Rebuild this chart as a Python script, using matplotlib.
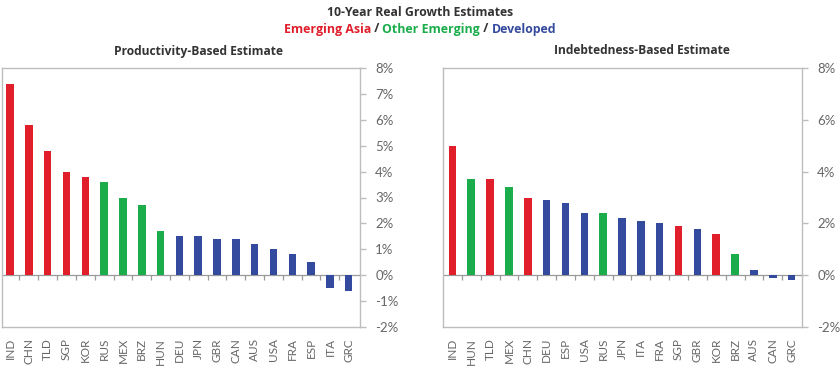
import matplotlib
matplotlib.use("Agg")
import matplotlib.pyplot as plt
import numpy as np

plt.rcParams['font.family'] = ['Lato', 'DejaVu Sans']
BOLD_FAMILY = ['Open Sans', 'DejaVu Sans']

RED, GREEN, BLUE = '#E01F2B', '#1BAD4B', '#344A9E'
group_colors = {'asia': RED, 'other': GREEN, 'dev': BLUE}

groups = {
    'IND': 'asia', 'CHN': 'asia', 'TLD': 'asia', 'SGP': 'asia', 'KOR': 'asia',
    'RUS': 'other', 'MEX': 'other', 'BRZ': 'other', 'HUN': 'other',
    'DEU': 'dev', 'JPN': 'dev', 'GBR': 'dev', 'CAN': 'dev', 'AUS': 'dev',
    'USA': 'dev', 'FRA': 'dev', 'ESP': 'dev', 'ITA': 'dev', 'GRC': 'dev',
}

prod_countries = ['IND', 'CHN', 'TLD', 'SGP', 'KOR', 'RUS', 'MEX', 'BRZ', 'HUN',
                  'DEU', 'JPN', 'GBR', 'CAN', 'AUS', 'USA', 'FRA', 'ESP', 'ITA', 'GRC']
prod_values = [7.4, 5.8, 4.8, 4.0, 3.8, 3.6, 3.0, 2.7, 1.7,
               1.5, 1.5, 1.4, 1.4, 1.2, 1.0, 0.8, 0.5, -0.5, -0.6]

debt_countries = ['IND', 'HUN', 'TLD', 'MEX', 'CHN', 'DEU', 'ESP', 'USA', 'RUS',
                  'JPN', 'ITA', 'FRA', 'SGP', 'GBR', 'KOR', 'BRZ', 'AUS', 'CAN', 'GRC']
debt_values = [5.0, 3.7, 3.7, 3.4, 3.0, 2.9, 2.8, 2.4, 2.4,
               2.2, 2.1, 2.0, 1.9, 1.8, 1.6, 0.8, 0.2, -0.1, -0.2]

prod_yticks = [-2, -1, 0, 1, 2, 3, 4, 5, 6, 7, 8]
debt_yticks = [-2, 0, 2, 4, 6, 8]

W, H = 840, 370
fig = plt.figure(figsize=(W / 100, H / 100), dpi=100)
renderer = fig.canvas.get_renderer()

FRAME = '#BDBDBD'
TXT = '#666666'
DARK = '#333333'

def panel(rect, countries, values, yticks, xlim):
    ax = fig.add_axes(rect)
    x = np.arange(len(countries))
    cols = [group_colors[groups[c]] for c in countries]
    ax.bar(x, values, width=0.4, color=cols, zorder=3)
    ax.set_xlim(*xlim)
    ax.set_ylim(-2, 8)
    ax.axhline(0, color='#9a9a9a', lw=0.9, zorder=2)
    ax.vlines(x[:-1] + 0.5, -0.2, 0, color='#9a9a9a', lw=0.9, zorder=2)
    for s in ax.spines.values():
        s.set_color(FRAME)
        s.set_linewidth(1.0)
    ax.yaxis.tick_right()
    ax.set_yticks(yticks)
    ax.set_yticklabels([f'{v}%' for v in yticks], fontsize=9.5, color=TXT)
    ax.tick_params(axis='y', direction='out', length=4, width=1, color=FRAME, pad=7)
    ax.set_xticks(x)
    ax.set_xticklabels(countries, rotation=90, fontsize=8.5, color=TXT)
    ax.tick_params(axis='x', length=0, pad=8)
    return ax

def rect(l, t, r, b):
    return [l / W, 1 - b / H, (r - l) / W, (b - t) / H]

ax1 = panel(rect(2, 68, 360, 327), prod_countries, prod_values, prod_yticks, (-0.43, 18.6))
ax2 = panel(rect(443, 68, 802, 327), debt_countries, debt_values, debt_yticks, (-0.5, 18.55))

def width_of(s, size):
    t = fig.text(0, 0, s + '|', fontsize=size, fontweight='bold', family=BOLD_FAMILY)
    b = fig.text(0, 0, '|', fontsize=size, fontweight='bold', family=BOLD_FAMILY)
    w = t.get_window_extent(renderer).width - b.get_window_extent(renderer).width
    t.remove(); b.remove()
    return w

def fit_size(s, target, base=10):
    return base * target / width_of(s, base)

title = '10-Year Real Growth Estimates'
fig.text(420 / W, 1 - 13 / H, title, ha='center', va='center',
         fontsize=fit_size(title, 187), fontweight='bold', color=DARK, family=BOLD_FAMILY)

sub_size = fit_size('Indebtedness-Based Estimate', 177)
fig.text(198.5 / W, 1 - 51 / H, 'Productivity-Based Estimate', ha='center', va='center',
         fontsize=sub_size, fontweight='bold', color=DARK, family=BOLD_FAMILY)
fig.text(641.5 / W, 1 - 51 / H, 'Indebtedness-Based Estimate', ha='center', va='center',
         fontsize=sub_size, fontweight='bold', color=DARK, family=BOLD_FAMILY)

# coloured legend line
parts = [('Emerging Asia', RED), (' / ', DARK), ('Other Emerging', GREEN),
         (' / ', DARK), ('Developed', BLUE)]
full = ''.join(p for p, _ in parts)
leg_size = fit_size(full, 273)
total = width_of(full, leg_size)
x0 = 420 - total / 2
prefix = ''
for s, c in parts:
    off = width_of(prefix, leg_size) if prefix else 0
    fig.text((x0 + off) / W, 1 - 29 / H, s, ha='left', va='center', fontsize=leg_size,
             fontweight='bold', color=c, family=BOLD_FAMILY)
    prefix += s

fig.savefig('out.png', dpi=100)
